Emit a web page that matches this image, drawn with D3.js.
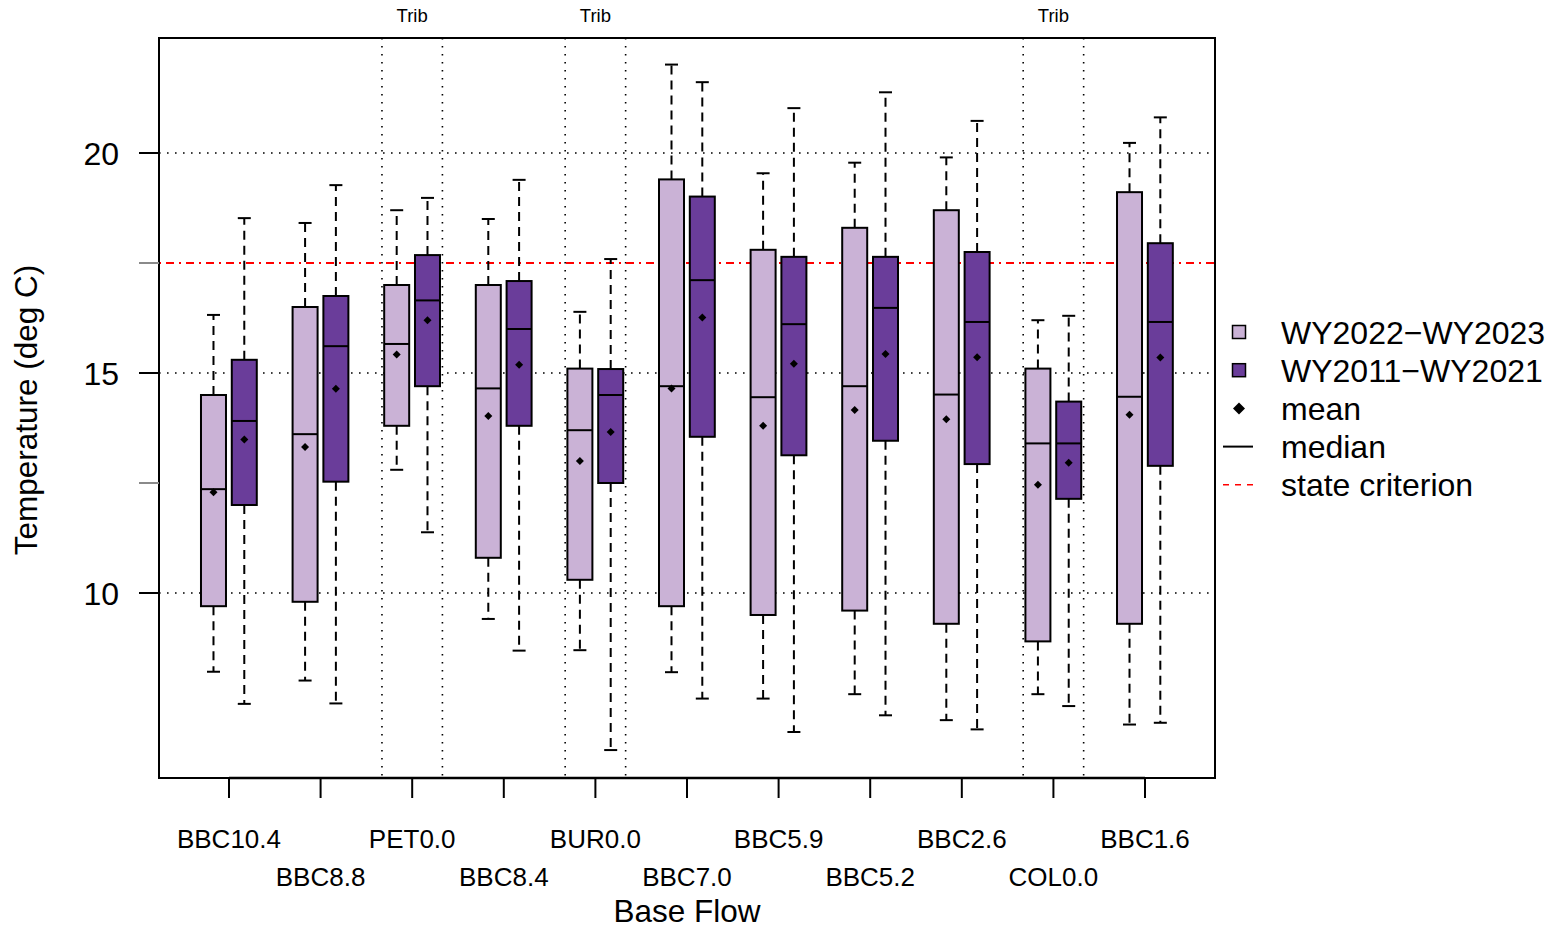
<!DOCTYPE html>
<html>
<head>
<meta charset="utf-8">
<script src="https://cdn.jsdelivr.net/npm/d3@7"></script>
<style>
  html, body { margin: 0; padding: 0; background: #ffffff; }
  svg { display: block; font-family: "Liberation Sans", Arial, Helvetica, sans-serif; }
</style>
</head>
<body>
<svg id="chart" width="1563" height="938"></svg>
<script>
// ---------------- data ----------------
const categories = ["BBC10.4","BBC8.8","PET0.0","BBC8.4","BUR0.0","BBC7.0","BBC5.9","BBC5.2","BBC2.6","COL0.0","BBC1.6"];
const tribCategories = ["PET0.0","BUR0.0","COL0.0"];
const seriesNames = ["WY2022\u2212WY2023","WY2011\u2212WY2021"];

// WY2022-WY2023
const recentLow  = [8.21, 8.01, 12.80, 9.41, 8.70, 8.20, 7.60, 7.70, 7.11, 7.70, 7.01];
const recentQ1   = [9.70, 9.80, 13.80, 10.80, 10.30, 9.70, 9.50, 9.60, 9.30, 8.90, 9.30];
const recentMed  = [12.36, 13.61, 15.66, 14.65, 13.70, 14.70, 14.45, 14.70, 14.51, 13.40, 14.46];
const recentQ3   = [14.50, 16.50, 17.00, 17.00, 15.10, 19.40, 17.80, 18.30, 18.70, 15.10, 19.11];
const recentHigh = [16.32, 18.41, 18.70, 18.50, 16.39, 22.01, 19.54, 19.78, 19.90, 16.20, 20.23];
const recentMean = [12.29, 13.32, 15.42, 14.02, 13.00, 14.65, 13.80, 14.16, 13.95, 12.46, 14.05];

// WY2011-WY2021
const histLow  = [7.48, 7.49, 11.38, 8.69, 6.43, 7.60, 6.84, 7.22, 6.90, 7.43, 7.05];
const histQ1   = [12.00, 12.53, 14.70, 13.80, 12.50, 13.55, 13.13, 13.46, 12.93, 12.14, 12.89];
const histMed  = [13.91, 15.61, 16.65, 16.00, 14.50, 17.11, 16.11, 16.48, 16.16, 13.40, 16.16];
const histQ3   = [15.30, 16.75, 17.68, 17.09, 15.09, 19.01, 17.64, 17.64, 17.75, 14.35, 17.95];
const histHigh = [18.52, 19.27, 18.98, 19.39, 17.59, 21.61, 21.02, 21.38, 20.73, 16.30, 20.81];
const histMean = [13.49, 14.64, 16.20, 15.19, 13.66, 16.26, 15.21, 15.43, 15.36, 12.96, 15.35];

const stateCriterion = 17.5;
const yMajorTicks = [10, 15, 20];
const yMinorTicks = [12.5, 17.5];
const yDomain = [5.795, 22.614];

const colors = ["#CAB2D6", "#6A3D9A"];

// ---------------- layout ----------------
const svg = d3.select("#chart");
const plot = { left: 159, right: 1215, top: 38, bottom: 778 };

const x = d3.scalePoint().domain(categories).range([plot.left, plot.right]).padding(0.764);
const step = x.step();
const y = d3.scaleLinear().domain(yDomain).range([plot.bottom, plot.top]);

const boxW = 25;
const offsets = [-15.5, 15.3];
const capW = 13;

const series = [
  { low: recentLow, q1: recentQ1, med: recentMed, q3: recentQ3, high: recentHigh, mean: recentMean },
  { low: histLow, q1: histQ1, med: histMed, q3: histQ3, high: histHigh, mean: histMean }
];

// grid: horizontal dotted lines
svg.append("g").selectAll("line").data(yMajorTicks).join("line")
  .attr("x1", plot.left).attr("x2", plot.right)
  .attr("y1", d => y(d)).attr("y2", d => y(d))
  .attr("stroke", "#000").attr("stroke-width", 1.6)
  .attr("stroke-dasharray", "1.6,6.4");

// trib vertical dotted lines
const tribLines = [];
tribCategories.forEach(c => { tribLines.push(x(c) - step * 0.33); tribLines.push(x(c) + step * 0.33); });
svg.append("g").selectAll("line").data(tribLines).join("line")
  .attr("x1", d => d).attr("x2", d => d)
  .attr("y1", plot.top).attr("y2", plot.bottom)
  .attr("stroke", "#000").attr("stroke-width", 1.6)
  .attr("stroke-dasharray", "1.6,6.4");

// trib labels
svg.append("g").selectAll("text").data(tribCategories).join("text")
  .attr("x", d => x(d)).attr("y", 22)
  .attr("text-anchor", "middle").attr("font-size", 18.5)
  .text("Trib");

// state criterion line
svg.append("line")
  .attr("x1", plot.left).attr("x2", plot.right)
  .attr("y1", y(stateCriterion)).attr("y2", y(stateCriterion))
  .attr("stroke", "#FF0000").attr("stroke-width", 2)
  .attr("stroke-dasharray", "2,5,8,5");

// boxes
series.forEach((s, si) => {
  const idx = d3.range(categories.length);
  const cxOf = i => x(categories[i]) + offsets[si];
  // whiskers (dashed)
  svg.append("g").selectAll("line").data(idx.flatMap(i => [[i, true], [i, false]])).join("line")
    .attr("x1", d => cxOf(d[0])).attr("x2", d => cxOf(d[0]))
    .attr("y1", d => d[1] ? y(s.q3[d[0]]) : y(s.q1[d[0]]))
    .attr("y2", d => d[1] ? y(s.high[d[0]]) : y(s.low[d[0]]))
    .attr("stroke", "#000").attr("stroke-width", 2).attr("stroke-dasharray", "9,6");
  // caps
  svg.append("g").selectAll("line").data(idx.flatMap(i => [[i, s.high[i]], [i, s.low[i]]])).join("line")
    .attr("x1", d => cxOf(d[0]) - capW / 2).attr("x2", d => cxOf(d[0]) + capW / 2)
    .attr("y1", d => y(d[1])).attr("y2", d => y(d[1]))
    .attr("stroke", "#000").attr("stroke-width", 2);
  // box rect
  svg.append("g").selectAll("rect").data(idx).join("rect")
    .attr("x", i => cxOf(i) - boxW / 2)
    .attr("width", boxW)
    .attr("y", i => y(s.q3[i]))
    .attr("height", i => y(s.q1[i]) - y(s.q3[i]))
    .attr("fill", colors[si]).attr("stroke", "#000").attr("stroke-width", 2);
  // median
  svg.append("g").selectAll("line").data(idx).join("line")
    .attr("x1", i => cxOf(i) - boxW / 2)
    .attr("x2", i => cxOf(i) + boxW / 2)
    .attr("y1", i => y(s.med[i])).attr("y2", i => y(s.med[i]))
    .attr("stroke", "#000").attr("stroke-width", 2);
  // mean diamond
  svg.append("g").selectAll("path").data(idx).join("path")
    .attr("transform", i => `translate(${cxOf(i)},${y(s.mean[i])})`)
    .attr("d", "M0,-4L4,0L0,4L-4,0Z")
    .attr("fill", "#000");
});

// frame
svg.append("rect")
  .attr("x", plot.left).attr("y", plot.top)
  .attr("width", plot.right - plot.left).attr("height", plot.bottom - plot.top)
  .attr("fill", "none").attr("stroke", "#000").attr("stroke-width", 2);

// y axis
const yAxis = svg.append("g");
yAxis.selectAll("line.major").data(yMajorTicks).join("line")
  .attr("class", "major")
  .attr("x1", plot.left - 20).attr("x2", plot.left)
  .attr("y1", d => y(d)).attr("y2", d => y(d))
  .attr("stroke", "#000").attr("stroke-width", 2);
yAxis.selectAll("line.minor").data(yMinorTicks).join("line")
  .attr("class", "minor")
  .attr("x1", plot.left - 20).attr("x2", plot.left)
  .attr("y1", d => y(d)).attr("y2", d => y(d))
  .attr("stroke", "#8a8a8a").attr("stroke-width", 2);
yAxis.selectAll("text").data(yMajorTicks).join("text")
  .attr("x", 119).attr("y", d => y(d))
  .attr("dy", "0.36em").attr("text-anchor", "end")
  .attr("font-size", 32)
  .text(d => d);

// x axis
const xAxis = svg.append("g");
xAxis.append("line")
  .attr("x1", x(categories[0])).attr("x2", x(categories[categories.length - 1]))
  .attr("y1", plot.bottom).attr("y2", plot.bottom)
  .attr("stroke", "#000").attr("stroke-width", 2.5);
xAxis.selectAll("line.tick").data(categories).join("line")
  .attr("class", "tick")
  .attr("x1", d => x(d)).attr("x2", d => x(d))
  .attr("y1", plot.bottom).attr("y2", plot.bottom + 20)
  .attr("stroke", "#000").attr("stroke-width", 2);
xAxis.selectAll("text").data(categories).join("text")
  .attr("x", d => x(d))
  .attr("y", (d, i) => i % 2 === 0 ? 848 : 886)
  .attr("text-anchor", "middle").attr("font-size", 26)
  .text(d => d);

// axis titles
svg.append("text")
  .attr("x", x("BBC7.0")).attr("y", 922)
  .attr("text-anchor", "middle").attr("font-size", 31.5)
  .text("Base Flow");
svg.append("text")
  .attr("transform", "translate(37,410) rotate(-90)")
  .attr("text-anchor", "middle").attr("font-size", 31.5)
  .text("Temperature (deg C)");

// legend
const legY0 = 332, legStep = 38.2, legMarkX = 1239, legTextX = 1281;
const leg = svg.append("g");
const legendItems = [
  { type: "box", color: colors[0], label: seriesNames[0] },
  { type: "box", color: colors[1], label: seriesNames[1] },
  { type: "mean", label: "mean" },
  { type: "median", label: "median" },
  { type: "crit", label: "state criterion" }
];
legendItems.forEach((it, i) => {
  const cy = legY0 + i * legStep;
  if (it.type === "box") {
    leg.append("rect").attr("x", legMarkX - 6.5).attr("y", cy - 6.5)
      .attr("width", 13).attr("height", 13)
      .attr("fill", it.color).attr("stroke", "#000").attr("stroke-width", 1.5);
  } else if (it.type === "mean") {
    leg.append("path").attr("transform", `translate(${legMarkX},${cy})`)
      .attr("d", "M0,-6L6,0L0,6L-6,0Z").attr("fill", "#000");
  } else if (it.type === "median") {
    leg.append("line").attr("x1", legMarkX - 16).attr("x2", legMarkX + 14)
      .attr("y1", cy).attr("y2", cy).attr("stroke", "#000").attr("stroke-width", 2);
  } else {
    leg.append("line").attr("x1", legMarkX - 16).attr("x2", legMarkX + 14)
      .attr("y1", cy).attr("y2", cy).attr("stroke", "#FF0000").attr("stroke-width", 1.5)
      .attr("stroke-dasharray", "6,6");
  }
  leg.append("text").attr("x", legTextX).attr("y", cy).attr("dy", "0.36em")
    .attr("font-size", 32).text(it.label);
});
</script>
</body>
</html>
